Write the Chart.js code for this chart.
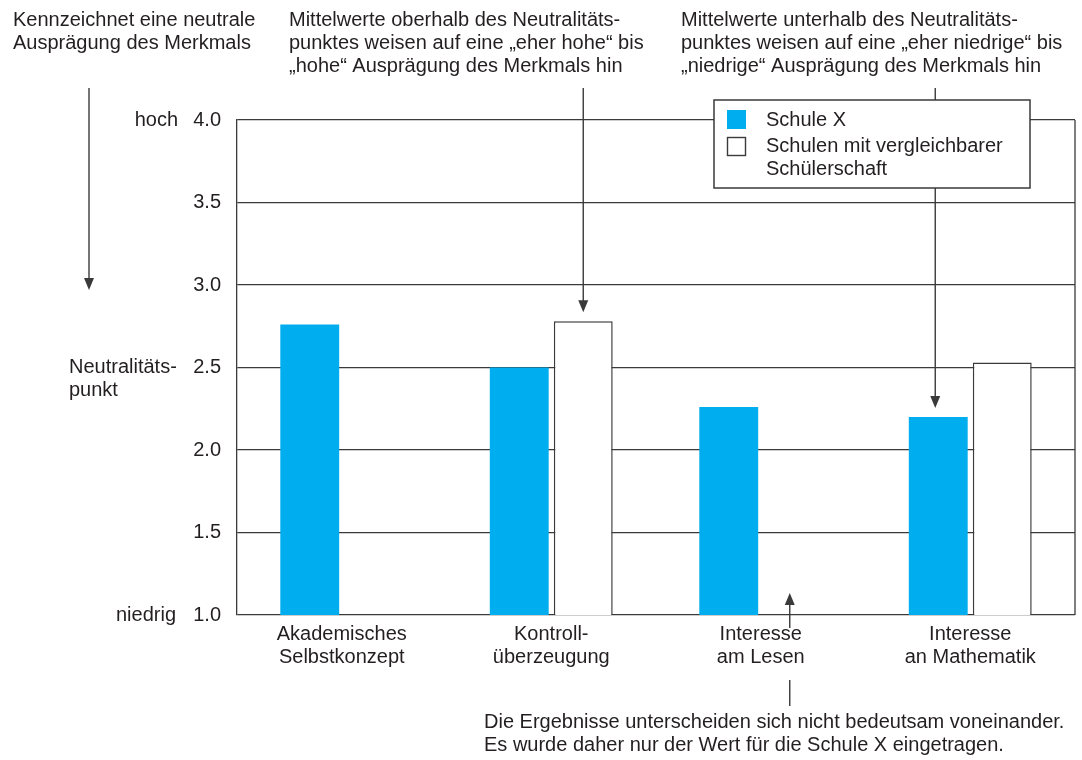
<!DOCTYPE html>
<html lang="de">
<head>
<meta charset="utf-8">
<title>Merkmalsausprägungen Schule X</title>
<script src="https://cdn.jsdelivr.net/npm/chart.js@4/dist/chart.umd.min.js"></script>
<style>
  html, body { margin: 0; padding: 0; background: #fff; }
  #wrap { position: relative; width: 1082px; height: 760px; }
</style>
</head>
<body>
<div id="wrap"><canvas id="chart"></canvas></div>
<script>
// Merkmale (Kategorien) und Mittelwerte
const categories = [
  ["Akademisches", "Selbstkonzept"],
  ["Kontroll-", "überzeugung"],
  ["Interesse", "am Lesen"],
  ["Interesse", "an Mathematik"]
];
const schuleX = [2.76, 2.50, 2.26, 2.20];
const vergleichsschulen = [null, 2.78, null, 2.53];
const seriesLabels = ["Schule X", ["Schulen mit vergleichbarer", "Schülerschaft"]];
const scaleMin = 1.0, scaleMax = 4.0, scaleStep = 0.5;

const INK = '#231f20';
const LINE = '#3a3a3a';
const BLUE = '#00adee';
const FONT = '"Liberation Sans", Arial, sans-serif';
const FS = 20;

function arrow(ctx, x, yFrom, yTo) {
  const dir = yTo > yFrom ? 1 : -1;
  ctx.save();
  ctx.strokeStyle = LINE;
  ctx.fillStyle = LINE;
  ctx.lineWidth = 1.4;
  ctx.beginPath();
  ctx.moveTo(x, yFrom);
  ctx.lineTo(x, yTo - dir * 10);
  ctx.stroke();
  ctx.beginPath();
  ctx.moveTo(x, yTo);
  ctx.lineTo(x - 5, yTo - dir * 12);
  ctx.lineTo(x + 5, yTo - dir * 12);
  ctx.closePath();
  ctx.fill();
  ctx.restore();
}

function textLines(ctx, lines, x, y, align) {
  ctx.save();
  ctx.fillStyle = INK;
  ctx.font = FS + 'px ' + FONT;
  ctx.textAlign = align || 'left';
  ctx.textBaseline = 'middle';
  lines.forEach((t, i) => ctx.fillText(t, x, y + i * 23));
  ctx.restore();
}

// Rahmen, Beschriftungen, Pfeile und Legende
const decorations = {
  id: 'decorations',
  afterDatasetsDraw(chart) {
    const ctx = chart.ctx;
    const area = chart.chartArea;
    const y = chart.scales.y;
    const metaX = chart.getDatasetMeta(0);
    const metaV = chart.getDatasetMeta(1);

    // rechter Rahmen
    ctx.save();
    ctx.strokeStyle = LINE;
    ctx.lineWidth = 1.3;
    ctx.beginPath();
    ctx.moveTo(area.right, area.top);
    ctx.lineTo(area.right, area.bottom);
    ctx.stroke();
    ctx.restore();

    // Skalenbeschriftung links
    textLines(ctx, ['hoch'], 178, y.getPixelForValue(scaleMax), 'right');
    textLines(ctx, ['niedrig'], 176, y.getPixelForValue(scaleMin), 'right');
    textLines(ctx, ['Neutralitäts-', 'punkt'], 69, y.getPixelForValue(2.5), 'left');

    // Erläuterungen oben
    textLines(ctx, ['Kennzeichnet eine neutrale', 'Ausprägung des Merkmals'], 13, 20);
    textLines(ctx, ['Mittelwerte oberhalb des Neutralitäts-',
                    'punktes weisen auf eine „eher hohe“ bis',
                    '„hohe“ Ausprägung des Merkmals hin'], 289, 20);
    textLines(ctx, ['Mittelwerte unterhalb des Neutralitäts-',
                    'punktes weisen auf eine „eher niedrige“ bis',
                    '„niedrige“ Ausprägung des Merkmals hin'], 681, 20);

    // Pfeile
    arrow(ctx, 89, 88, y.getPixelForValue(3.0) + 5);
    const hoch = metaV.data[1];
    arrow(ctx, hoch.x, 88, y.getPixelForValue(vergleichsschulen[1]) - 9);
    const niedrig = metaX.data[3];
    arrow(ctx, niedrig.x - 3, 88, y.getPixelForValue(schuleX[3]) - 9);

    const leer = metaV.data[2];
    arrow(ctx, leer.x - 3, 628, area.bottom - 22);
    ctx.save();
    ctx.strokeStyle = LINE;
    ctx.lineWidth = 1.4;
    ctx.beginPath();
    ctx.moveTo(leer.x - 3, 680);
    ctx.lineTo(leer.x - 3, 706);
    ctx.stroke();
    ctx.restore();

    textLines(ctx, ['Die Ergebnisse unterscheiden sich nicht bedeutsam voneinander.',
                    'Es wurde daher nur der Wert für die Schule X eingetragen.'], 484, 722);

    // Legende
    const lx = 714, ly = 100, lw = 316, lh = 88;
    ctx.save();
    ctx.fillStyle = '#fff';
    ctx.fillRect(lx, ly, lw, lh);
    ctx.strokeStyle = LINE;
    ctx.lineWidth = 1.5;
    ctx.strokeRect(lx, ly, lw, lh);
    ctx.fillStyle = BLUE;
    ctx.fillRect(727, 110, 19, 19);
    ctx.fillStyle = '#fff';
    ctx.fillRect(727.5, 137.5, 18, 18);
    ctx.lineWidth = 1.4;
    ctx.strokeRect(727.5, 137.5, 18, 18);
    ctx.restore();
    textLines(ctx, [seriesLabels[0]], 766, 120);
    textLines(ctx, seriesLabels[1], 766, 146);
  }
};

new Chart(document.getElementById('chart'), {
  type: 'bar',
  data: {
    labels: categories,
    datasets: [
      {
        label: 'Schule X',
        data: schuleX,
        backgroundColor: BLUE,
        borderWidth: 0,
        categoryPercentage: 0.611,
        barPercentage: 0.92
      },
      {
        label: 'Schulen mit vergleichbarer Schülerschaft',
        data: vergleichsschulen,
        backgroundColor: '#ffffff',
        borderColor: LINE,
        borderWidth: 1.5,
        categoryPercentage: 0.611,
        barPercentage: 0.92
      }
    ]
  },
  options: {
    responsive: true,
    maintainAspectRatio: false,
    animation: false,
    layout: { padding: { top: 120, right: 7, left: 0, bottom: 0 } },
    plugins: {
      legend: { display: false },
      tooltip: { enabled: false }
    },
    scales: {
      x: {
        grid: { display: false, drawTicks: false },
        border: { display: false },
        ticks: {
          color: INK,
          font: { family: FONT, size: FS, lineHeight: 1.15 },
          padding: 8,
          maxRotation: 0,
          autoSkip: false
        },
        afterFit(scale) { scale.height = 145; }
      },
      y: {
        min: scaleMin,
        max: scaleMax,
        grid: { color: LINE, lineWidth: 1.3, drawTicks: false },
        border: { display: true, color: LINE, width: 1.3 },
        ticks: {
          stepSize: scaleStep,
          color: INK,
          font: { family: FONT, size: FS },
          padding: 16,
          callback: v => Number(v).toFixed(1)
        },
        afterFit(scale) { scale.width = 237; }
      }
    }
  },
  plugins: [decorations]
});
</script>
</body>
</html>
